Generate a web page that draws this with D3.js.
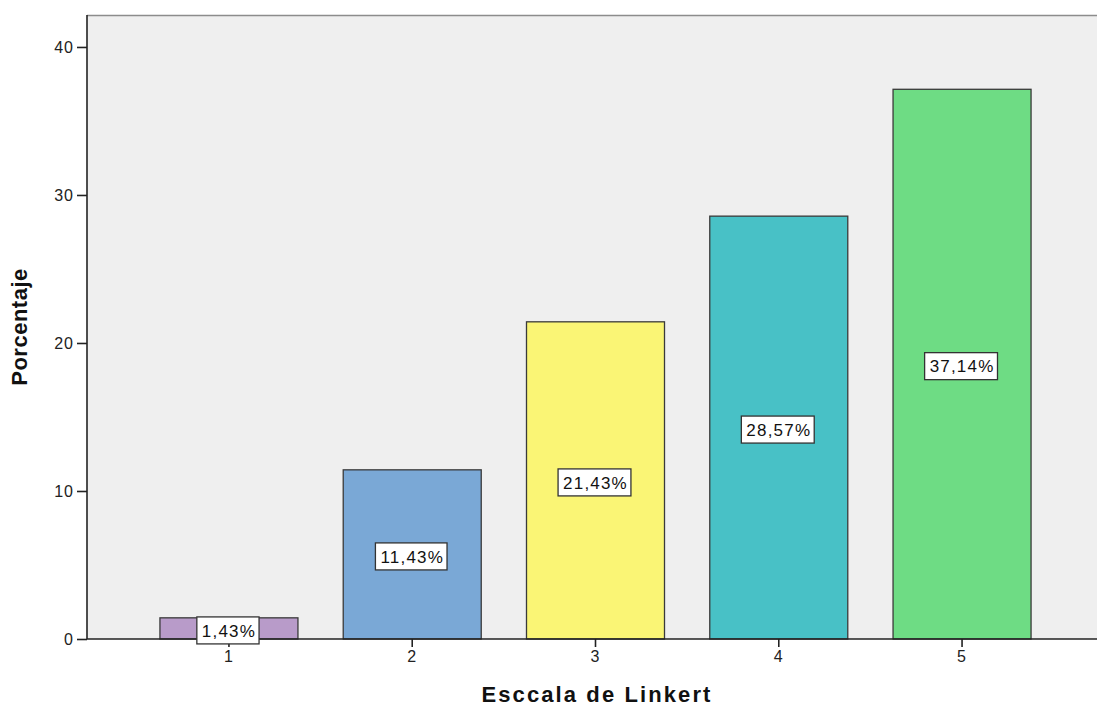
<!DOCTYPE html>
<html>
<head>
<meta charset="utf-8">
<script src="https://cdn.jsdelivr.net/npm/d3@7"></script>
<style>
  html, body { margin: 0; padding: 0; background: #ffffff; }
  svg { display: block; }
</style>
</head>
<body>
<svg id="chart" width="1097" height="706"></svg>
<script>
// Likert scale response distribution (percent)
const categories = ["1", "2", "3", "4", "5"];
const percentages = [1.43, 11.43, 21.43, 28.57, 37.14];
const labels = ["1,43%", "11,43%", "21,43%", "28,57%", "37,14%"];
const barColors = ["#b89bc9", "#7aa8d6", "#faf575", "#48c1c6", "#6edc84"];
const yTicks = [0, 10, 20, 30, 40];

const svg = d3.select("#chart");
const plotLeft = 87, plotTop = 15, plotBottom = 639, plotRight = 1104;
const font = "'Liberation Sans', Arial, sans-serif";

const x = d3.scaleBand()
  .domain(categories)
  .range([plotLeft, plotRight])
  .paddingInner(0.247)
  .paddingOuter(0.398);

const y = d3.scaleLinear()
  .domain([0, 42.16])
  .range([plotBottom, plotTop]);

// plot background
svg.append("rect")
  .attr("x", plotLeft).attr("y", plotTop)
  .attr("width", 1097 - plotLeft).attr("height", plotBottom - plotTop)
  .attr("fill", "#efefef");

// top frame line
svg.append("line")
  .attr("x1", plotLeft).attr("x2", 1097)
  .attr("y1", plotTop + 0.5).attr("y2", plotTop + 0.5)
  .attr("stroke", "#8c8c8c").attr("stroke-width", 1.5);

// bars
svg.append("g").selectAll("rect")
  .data(percentages)
  .join("rect")
  .attr("x", (d, i) => x(categories[i]))
  .attr("y", d => y(d))
  .attr("width", x.bandwidth())
  .attr("height", d => plotBottom - y(d))
  .attr("fill", (d, i) => barColors[i])
  .attr("stroke", "#3a3a3a")
  .attr("stroke-width", 1.3);

// y axis
const yAxis = svg.append("g")
  .attr("transform", `translate(${plotLeft},0)`)
  .call(d3.axisLeft(y).tickValues(yTicks).tickSize(10).tickPadding(3).tickSizeOuter(0));
yAxis.select(".domain").remove();
svg.append("line")
  .attr("x1", plotLeft).attr("x2", plotLeft).attr("y1", plotTop).attr("y2", plotBottom)
  .attr("stroke", "#222").attr("stroke-width", 1.6);

// x axis
const xAxis = svg.append("g")
  .attr("transform", `translate(0,${plotBottom})`)
  .call(d3.axisBottom(x).tickSize(8).tickPadding(4).tickSizeOuter(0));
xAxis.select(".domain").remove();
svg.append("line")
  .attr("x1", plotLeft).attr("x2", 1097).attr("y1", plotBottom).attr("y2", plotBottom)
  .attr("stroke", "#222").attr("stroke-width", 1.6);

svg.selectAll(".tick line").attr("stroke", "#222").attr("stroke-width", 1.6);
svg.selectAll(".tick text")
  .attr("font-family", font)
  .attr("font-size", 16)
  .attr("letter-spacing", "1px")
  .attr("fill", "#222");

// value labels
const lab = svg.append("g").selectAll("g")
  .data(percentages)
  .join("g")
  .attr("transform", (d, i) => `translate(${x(categories[i]) + x.bandwidth() / 2},${(y(d) + plotBottom) / 2 + 2})`);

lab.each(function(d, i) {
  const g = d3.select(this);
  const t = g.append("text")
    .attr("text-anchor", "middle")
    .attr("dy", "0.36em")
    .attr("font-family", font)
    .attr("font-size", 17)
    .attr("letter-spacing", "1.2px")
    .attr("fill", "#111")
    .text(labels[i]);
  const w = t.node().getComputedTextLength();
  g.insert("rect", "text")
    .attr("x", -w / 2 - 5)
    .attr("y", -13.5)
    .attr("width", w + 8)
    .attr("height", 27)
    .attr("fill", "#ffffff")
    .attr("stroke", "#333")
    .attr("stroke-width", 1.3);
});

// axis titles
svg.append("text")
  .attr("x", 597).attr("y", 702)
  .attr("text-anchor", "middle")
  .attr("font-family", font)
  .attr("font-weight", "bold")
  .attr("font-size", 22)
  .attr("letter-spacing", "2.1px")
  .attr("fill", "#111")
  .text("Esccala de Linkert");

svg.append("text")
  .attr("transform", "translate(27,327) rotate(-90)")
  .attr("text-anchor", "middle")
  .attr("font-family", font)
  .attr("font-weight", "bold")
  .attr("font-size", 22)
  .attr("letter-spacing", "0.5px")
  .attr("fill", "#111")
  .text("Porcentaje");
</script>
</body>
</html>
